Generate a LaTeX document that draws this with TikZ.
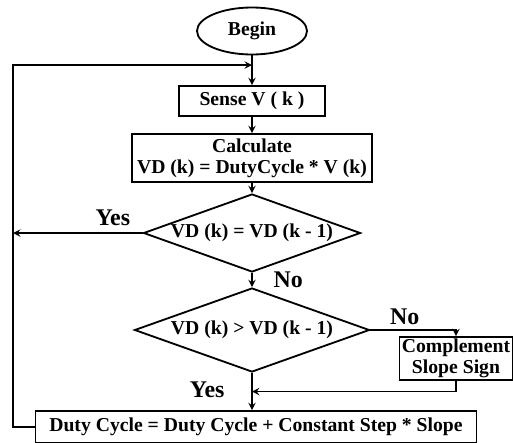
\documentclass[tikz,border=0pt]{standalone}
\usepackage{fontspec}
\setmainfont{Liberation Serif}
\usetikzlibrary{shapes.geometric}

\begin{document}
\begin{tikzpicture}[node distance={15mm}, line width=1.3pt,
    every node/.style = {font=\bfseries\fontsize{14}{15}\selectfont},
    term/.style = {draw, ellipse, minimum width=2.75cm, minimum height=1.175cm, inner sep=0pt},
    proc/.style = {draw, rectangle, align=center, inner sep=1pt},
    cond/.style = {draw, diamond, aspect=2.8, inner sep=0pt},
    lbl/.style = {font=\bfseries\fontsize{17}{18}\selectfont}]
        \useasboundingbox (0,0) rectangle (12.825,-11.05);
        \node[term] (begin) at (6.3,-0.775) {Begin};
        \node[proc, minimum width=3.65cm, minimum height=0.75cm] (sense) [below of = begin, node distance=1.75cm] {Sense V ( k )};
        \node[proc, minimum width=6cm, minimum height=1.2cm] (calc) [below of = sense, node distance=1.425cm] {Calculate\\VD (k) = DutyCycle * V (k)};
        \node[cond, minimum width=5.425cm, minimum height=1.95cm] (d1) [below of = calc, node distance=1.875cm] {VD (k) = VD (k - 1)};
        \node[cond, minimum width=5.875cm, minimum height=2.1cm] (d2) [below of = d1, node distance=2.425cm] {VD (k) > VD (k - 1)};
        \node[proc, minimum width=11.025cm, minimum height=0.8cm] (duty) [below of = d2, node distance=2.425cm, xshift=0.1cm] {Duty Cycle = Duty Cycle + Constant Step * Slope};
        \node[proc, minimum width=2.825cm, minimum height=1.075cm] (comp) at ([xshift=5.1cm, yshift=-0.7125cm]d2) {Complement\\Slope Sign};
        \coordinate (lp) at (0.325,-1.625);
        \draw[-stealth] (begin) -- (sense);
        \draw[-stealth] (sense) -- (calc);
        \draw[-stealth] (calc) -- (d1);
        \draw[-stealth] (d1) -- node[lbl, right, xshift=0.4cm] {No} (d2);
        \draw[-stealth] (d1.west) -- node[lbl, pos=0.23, above, yshift=0.05cm] {Yes} (d1.west -| lp);
        \draw[-stealth] (d2.east) -| node[lbl, pos=0.2, above] {No} (comp.north);
        \draw[-stealth] (d2.south) -- coordinate (mj) node[lbl, pos=0.45, left, xshift=-0.55cm] {Yes} (duty.north -| d2.south);
        \draw[-stealth] (comp.south) |- (mj);
        \draw[-stealth] (duty.west) -| (lp) -- (begin |- lp);
    \end{tikzpicture}
\end{document}
